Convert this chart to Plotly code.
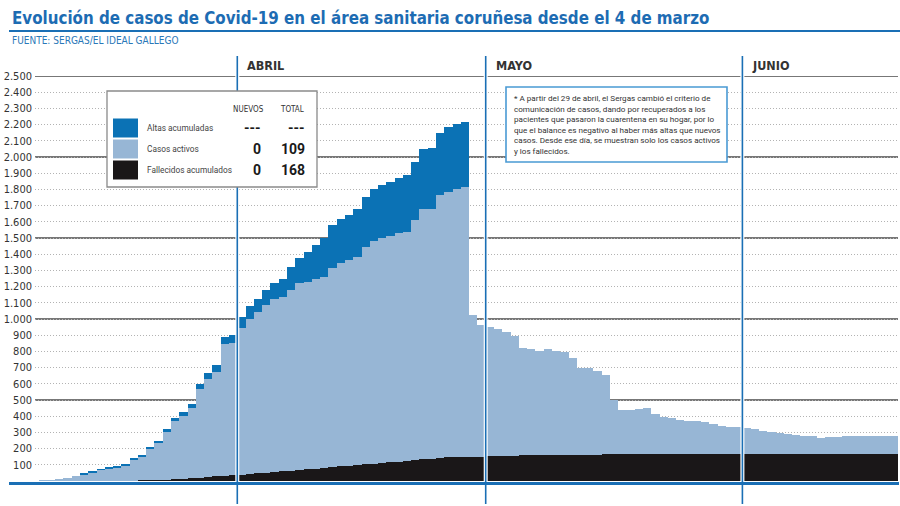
import pandas as pd
import plotly.graph_objects as go

# ---------------- data ----------------
start_date = "2020-03-04"
end_date = "2020-06-19"

fallecidos = (
    [0] * 12
    + [1, 1, 2, 3, 4, 5, 7, 9, 12, 14, 17, 21, 24, 28, 32, 35]
    + [38, 42, 47, 51, 55, 60, 64, 68, 72, 77, 81, 85, 90, 94, 98,
       103, 107, 111, 116, 120, 124, 129, 133, 137, 142, 146, 147, 148, 149, 150]
    + [154, 155, 155, 156, 158, 159, 160, 160, 161, 161, 161, 162, 162, 163, 165, 165,
       166, 166, 166, 166, 167, 167, 167, 167, 167, 167, 167, 167, 168, 168, 168]
    + [168] * 19
)

activos = (
    [0, 0, 0, 0]
    + [2, 4, 12, 20, 33, 43, 54, 68, 77, 84, 92, 127, 146, 197, 225, 291, 360, 389,
       431, 548, 603, 646, 811, 814]
    + [904, 958, 994, 1035, 1066, 1077, 1114, 1152, 1158, 1167, 1176, 1227, 1257, 1269,
       1286, 1343, 1374, 1386, 1396, 1408, 1414, 1481, 1549, 1545, 1622, 1639, 1653,
       1664, 875, 812]
    + [794, 781, 762, 742, 665, 653, 640, 652, 643, 637, 600, 533, 533, 517, 489, 335,
       272, 272, 276, 284, 244, 226, 223, 211, 203, 203, 199, 185, 171, 163, 163]
    + [157, 153, 140, 132, 126, 120, 116, 110, 110, 95, 104, 105, 107, 109, 109, 109,
       109, 109, 109]
)

altas = (
    [0] * 9
    + [3, 3, 3, 6, 6, 6, 7, 9, 10, 14, 18, 18, 20, 30, 30, 41, 42, 43, 52]
    + [71, 81, 82, 92, 99, 113, 144, 158, 181, 212, 244, 267, 270, 278, 294, 308, 320,
       329, 335, 343, 354, 360, 366, 374, 387, 401, 402, 405]
    + [None] * 2
    + [None] * 31
    + [None] * 19
)

y_tick_values = [100, 200, 300, 400, 500, 600, 700, 800, 900, 1000, 1100, 1200, 1300,
                 1400, 1500, 1600, 1700, 1800, 1900, 2000, 2100, 2200, 2300, 2400, 2500]
y_tick_labels = ["100", "200", "300", "400", "500", "600", "700", "800", "900", "1.000",
                 "1.100", "1.200", "1.300", "1.400", "1.500", "1.600", "1.700", "1.800",
                 "1.900", "2.000", "2.100", "2.200", "2.300", "2.400", "2.500"]
y_major_lines = [500, 1000, 1500, 2000, 2500]

month_starts = ["2020-04-01", "2020-05-01", "2020-06-01"]
month_labels = ["ABRIL", "MAYO", "JUNIO"]

legend_labels = ["Altas acumuladas", "Casos activos", "Fallecidos acumulados"]
legend_nuevos = ["---", "0", "0"]
legend_total = ["---", "109", "168"]

title_text = "Evolución de casos de Covid-19 en el área sanitaria coruñesa desde el 4 de marzo"
source_text = "FUENTE: SERGAS/EL IDEAL GALLEGO"
note_lines = [
    "* A partir del 29 de abril, el Sergas cambió el criterio de",
    "comunicación de casos, dando por recuperados a los",
    "pacientes que pasaron la cuarentena en su hogar, por lo",
    "que el balance es negativo al haber más altas que nuevos",
    "casos. Desde ese día, se muestran solo los casos activos",
    "y los fallecidos.",
]

dates = pd.date_range(start_date, end_date, freq="D")
assert len(dates) == len(fallecidos) == len(activos) == len(altas)
x_mid = dates + pd.Timedelta(hours=12)

# ---------------- style ----------------
C_ALTAS = "#0b72b5"
C_ACT = "#97b6d5"
C_FALL = "#1a1718"
C_BLUE = "#1a6fb5"
NARROW = "Liberation Sans Narrow, DejaVu Sans Condensed, Arial Narrow, sans-serif"
REG = "Roboto, Liberation Sans, sans-serif"

L, R, T, B = 35, 2, 76, 25
W = 900 - L - R
H = 506 - T - B


def px(x):
    return (x - L) / W


def py(y):
    return (506 - B - y) / H


fig = go.Figure()
fig.add_trace(go.Bar(x=x_mid, y=fallecidos, name=legend_labels[2], marker=dict(color=C_FALL, line=dict(width=0))))
fig.add_trace(go.Bar(x=x_mid, y=activos, name=legend_labels[1], marker=dict(color=C_ACT, line=dict(width=0))))
fig.add_trace(go.Bar(x=x_mid, y=altas, name=legend_labels[0], marker=dict(color=C_ALTAS, line=dict(width=0))))

shapes = []
annotations = []

# solid gridlines every 500
for v in y_major_lines:
    shapes.append(dict(type="line", xref="paper", yref="y", x0=0, x1=1, y0=v, y1=v,
                       line=dict(color="#4a4a4a", width=1.4), layer="below"))

# month lines
for d, lab in zip(month_starts, month_labels):
    shapes.append(dict(type="line", xref="x", yref="paper", x0=d, x1=d, y0=py(504), y1=py(56),
                       line=dict(color="white", width=4), layer="above"))
    shapes.append(dict(type="line", xref="x", yref="paper", x0=d, x1=d, y0=py(504), y1=py(56),
                       line=dict(color=C_BLUE, width=1.6), layer="above"))
    annotations.append(dict(text=lab, xref="x", yref="paper", x=d, y=py(66), xanchor="left",
                            yanchor="middle", xshift=8, showarrow=False,
                            font=dict(family=NARROW, size=12.5, color="#333333", weight="bold")))

# baseline
shapes.append(dict(type="line", xref="paper", yref="paper", x0=px(9), x1=px(899), y0=py(483.5), y1=py(483.5),
                   line=dict(color=C_BLUE, width=3), layer="above"))
# title rule
shapes.append(dict(type="line", xref="paper", yref="paper", x0=px(9), x1=px(900), y0=py(31), y1=py(31),
                   line=dict(color=C_BLUE, width=2), layer="above"))

# legend box
shapes.append(dict(type="rect", xref="paper", yref="paper", x0=px(107), x1=px(317), y0=py(187), y1=py(91),
                   line=dict(color="#8a8a8a", width=1.3), fillcolor="white", layer="above"))
annotations.append(dict(text="NUEVOS", xref="paper", yref="paper", x=px(248), y=py(109), xanchor="center",
                        yanchor="middle", showarrow=False, font=dict(family=NARROW, size=8, color="#333")))
annotations.append(dict(text="TOTAL", xref="paper", yref="paper", x=px(292), y=py(109), xanchor="center",
                        yanchor="middle", showarrow=False, font=dict(family=NARROW, size=8, color="#333")))
sw_colors = [C_ALTAS, C_ACT, C_FALL]
row_y = [128, 149, 170]
for i in range(3):
    yc = row_y[i]
    shapes.append(dict(type="rect", xref="paper", yref="paper", x0=px(113), x1=px(138), y0=py(yc + 9.5),
                       y1=py(yc - 9.5), line=dict(width=0), fillcolor=sw_colors[i], layer="above"))
    annotations.append(dict(text=legend_labels[i], xref="paper", yref="paper", x=px(145), y=py(yc),
                            xanchor="left", yanchor="middle", showarrow=False,
                            font=dict(family=REG, size=8.3, color="#444")))
    annotations.append(dict(text="<b>" + legend_nuevos[i] + "</b>", xref="paper", yref="paper", x=px(263), y=py(yc),
                            xanchor="right", yanchor="middle", showarrow=False,
                            font=dict(family=REG, size=14, color="#1a1a1a")))
    annotations.append(dict(text="<b>" + legend_total[i] + "</b>", xref="paper", yref="paper", x=px(307), y=py(yc),
                            xanchor="right", yanchor="middle", showarrow=False,
                            font=dict(family=REG, size=14, color="#1a1a1a")))

# note box
shapes.append(dict(type="rect", xref="paper", yref="paper", x0=px(506), x1=px(727), y0=py(162), y1=py(87),
                   line=dict(color="#4a9ad4", width=1.6), fillcolor="white", layer="above"))
annotations.append(dict(text="<br>".join(note_lines), xref="paper", yref="paper", x=px(512), y=py(91),
                        xanchor="left", yanchor="top", align="left", showarrow=False,
                        font=dict(family=REG, size=8.1, color="#333")))

# title & source
annotations.append(dict(text="<b>" + title_text + "</b>", xref="paper", yref="paper", x=px(10), y=py(18),
                        xanchor="left", yanchor="middle", showarrow=False,
                        font=dict(family=NARROW, size=16.8, color="#1d6cb3")))
annotations.append(dict(text=source_text, xref="paper", yref="paper", x=px(10), y=py(40),
                        xanchor="left", yanchor="middle", showarrow=False,
                        font=dict(family=NARROW, size=10, color="#2a78b8")))

fig.update_layout(
    width=900, height=506,
    margin=dict(l=L, r=R, t=T, b=B, pad=0),
    paper_bgcolor="white", plot_bgcolor="white",
    barmode="stack", bargap=0, showlegend=False,
    shapes=shapes, annotations=annotations,
    xaxis=dict(type="date", range=["2020-03-07 13:40", "2020-06-19 19:00"], showticklabels=False,
               showgrid=False, zeroline=False, showline=False, ticks=""),
    yaxis=dict(range=[0, 2500], tickvals=y_tick_values, ticktext=y_tick_labels, showgrid=True,
               gridcolor="#b3b3b3", griddash="1px,2px", gridwidth=1, zeroline=False, showline=False,
               ticks="", ticklabelstandoff=2,
               tickfont=dict(family=NARROW, size=11, color="#333333")),
)

fig.write_html("out.html")
